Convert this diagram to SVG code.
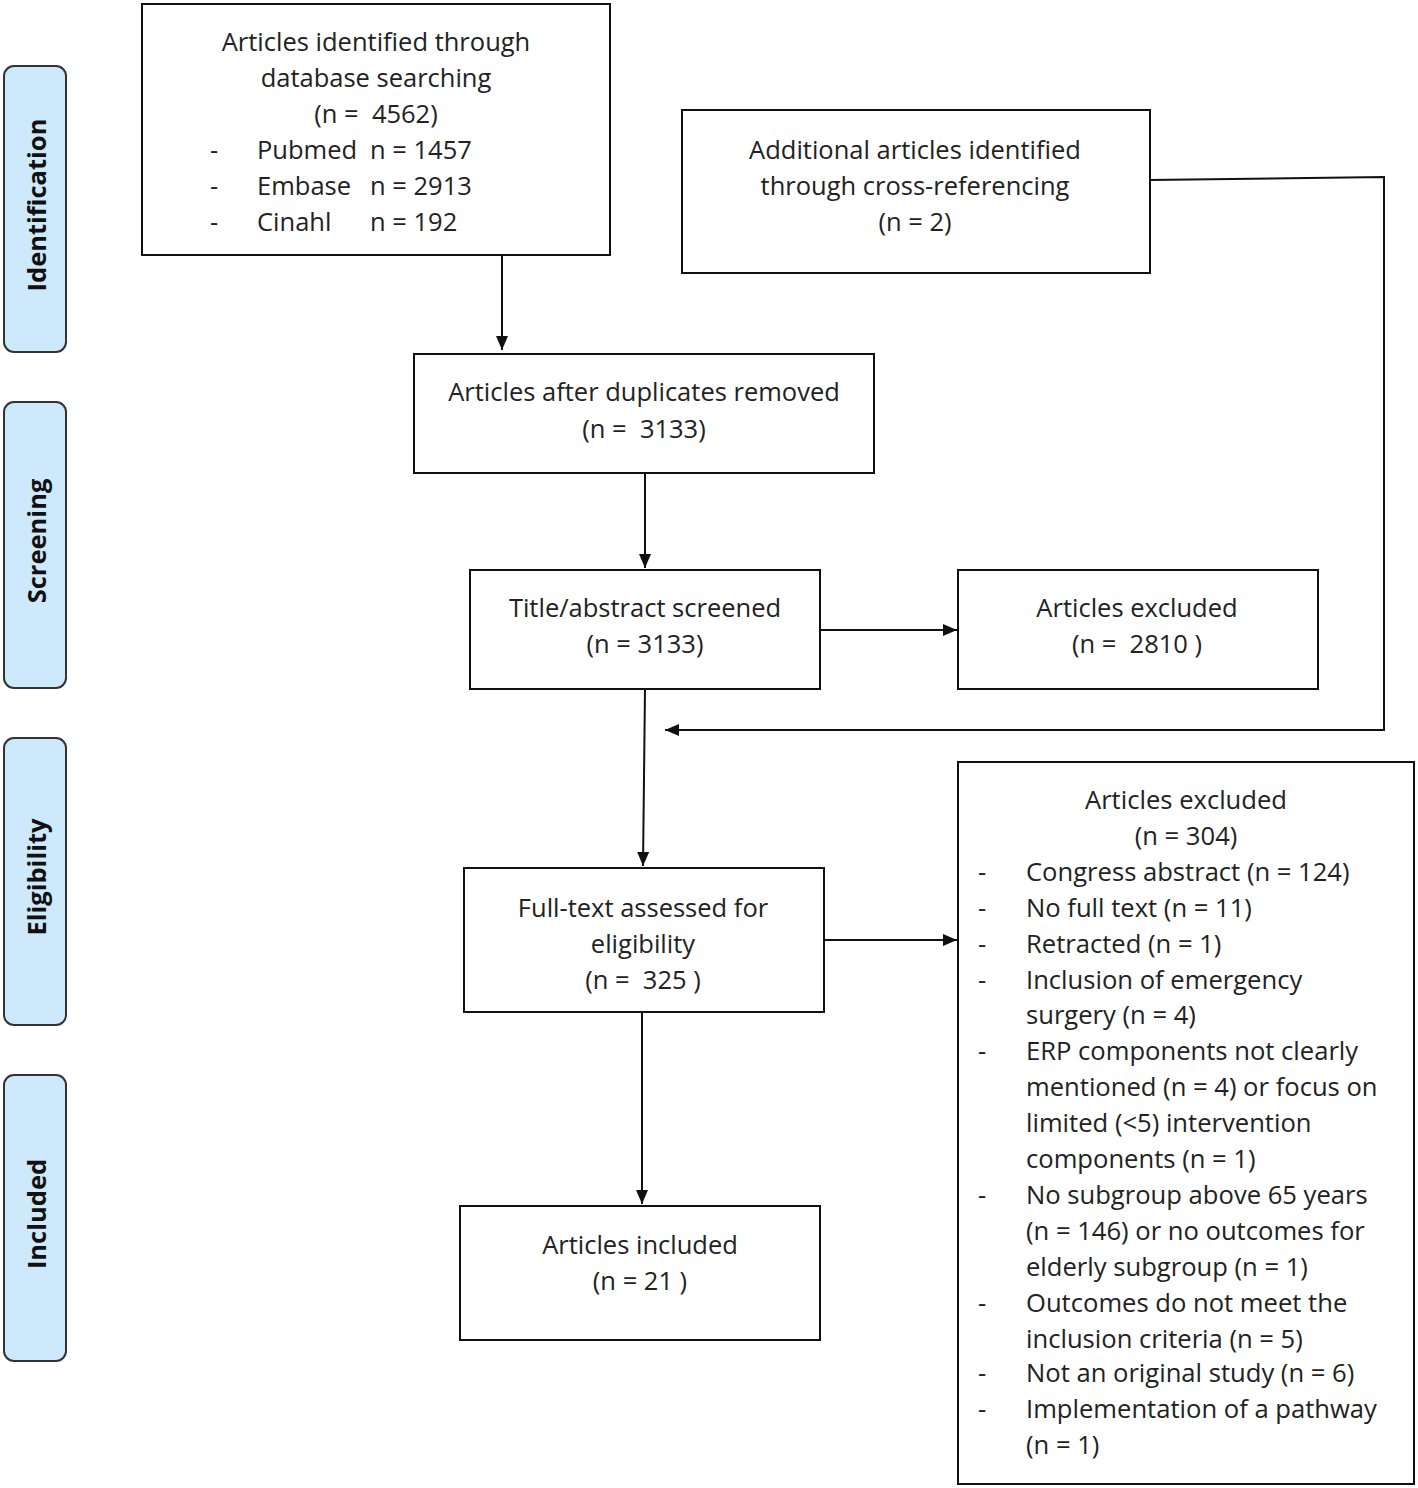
<svg xmlns="http://www.w3.org/2000/svg" width="1418" height="1488" viewBox="0 0 1418 1488">
<defs>
<marker id="ah" markerWidth="14" markerHeight="12" refX="14" refY="6" orient="auto" markerUnits="userSpaceOnUse">
<path d="M0,0 L14,6 L0,12 Z" fill="#111"/>
</marker>
</defs>
<style>
.box{fill:#fff;stroke:#111;stroke-width:2}
.side{fill:#cde9fb;stroke:#333;stroke-width:2}
.st{font-family:"Open Sans","Liberation Sans",sans-serif;font-weight:bold;font-size:25.5px;fill:#111;text-anchor:middle;dominant-baseline:central}
.t{font-family:"Open Sans","Liberation Sans",sans-serif;font-size:25.5px;fill:#222;dominant-baseline:central}
.c{text-anchor:middle}
.w{font-family:"Open Sans","Liberation Sans",sans-serif;font-size:25.6px;fill:#222;dominant-baseline:central}
.ln{fill:none;stroke:#111;stroke-width:2}
</style>
<g id="side-identification"><rect class="side" x="4" y="66" width="62" height="286" rx="10"/><text class="st" transform="translate(36,205) rotate(-90)">Identification</text></g>
<g id="side-screening"><rect class="side" x="4" y="402" width="62" height="286" rx="10"/><text class="st" transform="translate(36,541) rotate(-90)">Screening</text></g>
<g id="side-eligibility"><rect class="side" x="4" y="738" width="62" height="287" rx="10"/><text class="st" transform="translate(36,877) rotate(-90)">Eligibility</text></g>
<g id="side-included"><rect class="side" x="4" y="1075" width="62" height="286" rx="10"/><text class="st" transform="translate(36,1214) rotate(-90)">Included</text></g>

<g id="n-db">
<rect class="box" x="142" y="4" width="468" height="251"/>
<text class="t c" x="376" y="41">Articles identified through</text>
<text class="t c" x="376" y="77">database searching</text>
<text class="t c" x="376" y="113">(n =&#160; 4562)</text>
<text class="t" x="210" y="149">-</text><text class="t" x="257" y="149">Pubmed</text><text class="t" x="370" y="149">n = 1457</text>
<text class="t" x="210" y="185">-</text><text class="t" x="257" y="185">Embase</text><text class="t" x="370" y="185">n = 2913</text>
<text class="t" x="210" y="221">-</text><text class="t" x="257" y="221">Cinahl</text><text class="t" x="370" y="221">n = 192</text>
</g>
<g id="n-cross">
<rect class="box" x="682" y="110" width="468" height="163"/>
<text class="t c" x="915" y="149">Additional articles identified</text>
<text class="t c" x="915" y="185">through cross-referencing</text>
<text class="t c" x="915" y="221">(n = 2)</text>
</g>
<g id="n-dup">
<rect class="box" x="414" y="354" width="460" height="119"/>
<text class="t c" x="644" y="391">Articles after duplicates removed</text>
<text class="t c" x="644" y="428">(n =&#160; 3133)</text>
</g>
<g id="n-screen">
<rect class="box" x="470" y="570" width="350" height="119"/>
<text class="t c" x="645" y="607">Title/abstract screened</text>
<text class="t c" x="645" y="643">(n = 3133)</text>
</g>
<g id="n-excl1">
<rect class="box" x="958" y="570" width="360" height="119"/>
<text class="t c" x="1137" y="607">Articles excluded</text>
<text class="t c" x="1137" y="643">(n =&#160; 2810 )</text>
</g>
<g id="n-full">
<rect class="box" x="464" y="868" width="360" height="144"/>
<text class="t c" x="643" y="907">Full-text assessed for</text>
<text class="t c" x="643" y="943">eligibility</text>
<text class="t c" x="643" y="979">(n =&#160; 325 )</text>
</g>
<g id="n-incl">
<rect class="box" x="460" y="1206" width="360" height="134"/>
<text class="t c" x="640" y="1244">Articles included</text>
<text class="t c" x="640" y="1280">(n = 21 )</text>
</g>
<g id="n-excl2">
<rect class="box" x="958" y="762" width="456" height="722"/>
<text class="w c" x="1186" y="799">Articles excluded</text>
<text class="w c" x="1186" y="835">(n = 304)</text>
<text class="w" x="978" y="871">-</text><text class="w" x="1026" y="871">Congress abstract (n = 124)</text>
<text class="w" x="978" y="907">-</text><text class="w" x="1026" y="907">No full text (n = 11)</text>
<text class="w" x="978" y="943">-</text><text class="w" x="1026" y="943">Retracted (n = 1)</text>
<text class="w" x="978" y="979">-</text><text class="w" x="1026" y="979">Inclusion of emergency</text>
<text class="w" x="1026" y="1014">surgery (n = 4)</text>
<text class="w" x="978" y="1050">-</text><text class="w" x="1026" y="1050">ERP components not clearly</text>
<text class="w" x="1026" y="1086">mentioned (n = 4) or focus on</text>
<text class="w" x="1026" y="1122">limited (&lt;5) intervention</text>
<text class="w" x="1026" y="1158">components (n = 1)</text>
<text class="w" x="978" y="1194">-</text><text class="w" x="1026" y="1194">No subgroup above 65 years</text>
<text class="w" x="1026" y="1230">(n = 146) or no outcomes for</text>
<text class="w" x="1026" y="1266">elderly subgroup (n = 1)</text>
<text class="w" x="978" y="1302">-</text><text class="w" x="1026" y="1302">Outcomes do not meet the</text>
<text class="w" x="1026" y="1338">inclusion criteria (n = 5)</text>
<text class="w" x="978" y="1372">-</text><text class="w" x="1026" y="1372">Not an original study (n = 6)</text>
<text class="w" x="978" y="1408">-</text><text class="w" x="1026" y="1408">Implementation of a pathway</text>
<text class="w" x="1026" y="1444">(n = 1)</text>
</g>

<g id="connectors">
<path class="ln" d="M502,255 V350" marker-end="url(#ah)"/>
<path class="ln" d="M645,473 V568" marker-end="url(#ah)"/>
<path class="ln" d="M820,630 H957" marker-end="url(#ah)"/>
<path class="ln" d="M1150,180 L1384,177 V730 H665" marker-end="url(#ah)"/>
<path class="ln" d="M645,689 L643,866" marker-end="url(#ah)"/>
<path class="ln" d="M824,940 H957" marker-end="url(#ah)"/>
<path class="ln" d="M642,1012 V1204" marker-end="url(#ah)"/>
</g>
</svg>
